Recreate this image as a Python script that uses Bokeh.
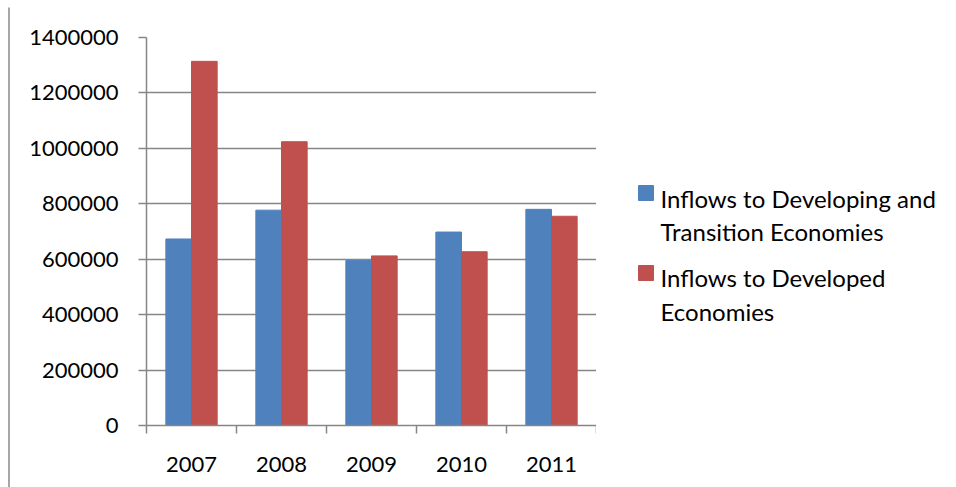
from bokeh.plotting import figure
from bokeh.layouts import row
from bokeh.models import Range1d, FixedTicker
from bokeh.core.properties import value
from bokeh.embed import file_html
from bokeh.resources import INLINE

years = ["2007", "2008", "2009", "2010", "2011"]
developing = [673000, 777000, 595000, 698000, 780000]
developed = [1314000, 1024000, 612000, 627000, 755000]
y_ticks = [0, 200000, 400000, 600000, 800000, 1000000, 1200000, 1400000]
series_names = [["Inflows to Developing and", "Transition Economies"],
                ["Inflows to Developed", "Economies"]]
colors = ["#4F81BD", "#C0504D"]

FONT = "Lato"
GRAY = "#868686"
H = 487

# ---- left strip with the page border line ----
strip = figure(width=12, height=H, output_backend="svg", toolbar_location=None,
               x_range=Range1d(0, 12), y_range=Range1d(H, 0), frame_align=False,
               min_border=0, x_axis_type=None, y_axis_type=None)
strip.outline_line_color = None
strip.grid.visible = False
strip.segment(x0=[8.5], y0=[7], x1=[8.5], y1=[H], line_color="#A6A6A6", line_width=2)

# ---- main chart ----
p = figure(width=584, height=H, output_backend="svg", toolbar_location=None,
           x_range=Range1d(0, len(years)), y_range=Range1d(0, 1400000),
           frame_align=False,
           min_border_left=134, min_border_right=0, min_border_top=37,
           min_border_bottom=62)
p.outline_line_color = None

centers = [i + 0.5 for i in range(len(years))]
bw = 0.285
p.vbar(x=[c - bw / 2 for c in centers], top=developing, width=bw, color=colors[0])
p.vbar(x=[c + bw / 2 for c in centers], top=developed, width=bw, color=colors[1])

p.yaxis.ticker = FixedTicker(ticks=y_ticks)
p.yaxis.minor_tick_line_color = None
p.yaxis.major_tick_in = 0
p.yaxis.major_tick_out = 8
p.yaxis.axis_line_color = GRAY
p.yaxis.major_tick_line_color = GRAY
p.yaxis.axis_line_width = 1.5
p.yaxis.major_tick_line_width = 1.5
p.yaxis.major_label_text_font = FONT
p.yaxis.major_label_text_font_size = "22px"
p.yaxis.major_label_text_color = "black"
p.yaxis.major_label_standoff = 20
p.yaxis.formatter.use_scientific = False

p.xaxis.ticker = FixedTicker(ticks=centers, minor_ticks=list(range(len(years) + 1)))
p.xaxis.major_label_overrides = {c: y for c, y in zip(centers, years)}
p.xaxis.major_tick_line_color = None
p.xaxis.minor_tick_in = 0
p.xaxis.minor_tick_out = 8
p.xaxis.minor_tick_line_color = GRAY
p.xaxis.minor_tick_line_width = 1.5
p.xaxis.axis_line_color = GRAY
p.xaxis.axis_line_width = 1.5
p.xaxis.major_label_text_font = FONT
p.xaxis.major_label_text_font_size = "22px"
p.xaxis.major_label_text_color = "black"
p.xaxis.major_label_standoff = 23

p.xgrid.grid_line_color = None
p.ygrid.ticker = FixedTicker(ticks=y_ticks)
p.ygrid.grid_line_color = GRAY
p.ygrid.grid_line_width = 1.5

# ---- legend panel (pixel-like coordinates, y down) ----
lg = figure(width=360, height=H, output_backend="svg", toolbar_location=None,
            x_range=Range1d(0, 360), y_range=Range1d(H, 0), frame_align=False,
            min_border=0, x_axis_type=None, y_axis_type=None)
lg.outline_line_color = None
lg.grid.visible = False
sq_y = [192.5, 272.5]
line_y = [[198, 231], [277, 311]]
for k, (lines, col) in enumerate(zip(series_names, colors)):
    lg.rect(x=[49.5], y=[sq_y[k]], width=15, height=15, color=col)
    lg.text(x=[64] * len(lines), y=line_y[k], text=lines,
            text_font=value(FONT), text_font_size="24px", text_color="black",
            text_baseline="middle", text_align="left")

layout = row(strip, p, lg, spacing=0)
open("out.html", "w").write(file_html(layout, INLINE))
